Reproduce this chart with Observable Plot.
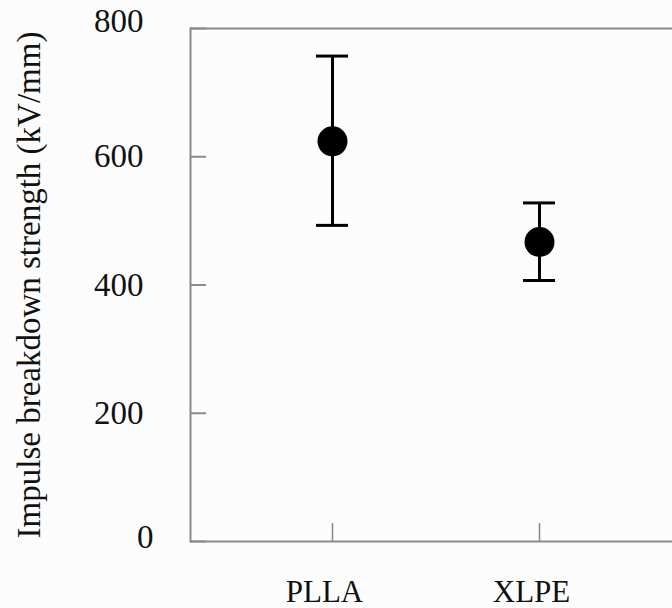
<!DOCTYPE html>
<html>
<head>
<meta charset="utf-8">
<script src="https://cdn.jsdelivr.net/npm/d3@7"></script>
<script src="https://cdn.jsdelivr.net/npm/@observablehq/plot@0.6"></script>
<style>
  html, body { margin: 0; padding: 0; background: #fcfcfc; overflow: hidden; }
  #chart svg { display: block; max-width: none !important; }
  #chart svg text { font-family: "Liberation Serif", "Times New Roman", Times, serif !important; }
</style>
</head>
<body>
<div id="chart"></div>
<script>
// Data
const materials = ["PLLA", "XLPE"];
const meanStrength = [624, 467];
const upperStrength = [757, 528];
const lowerStrength = [493, 407];
const yTicks = [0, 200, 400, 600, 800];
const yLabel = "Impulse breakdown strength (kV/mm)";

const data = materials.map((m, i) => ({
  material: m,
  mean: meanStrength[i],
  hi: upperStrength[i],
  lo: lowerStrength[i]
}));

const axisColor = "#8a8a8a";
const serif = "Liberation Serif, Times New Roman, Times, serif";

const chart = Plot.plot({
  width: 680,
  height: 608,
  marginLeft: 190,
  marginRight: 0,
  marginTop: 28,
  marginBottom: 67,
  style: {
    fontFamily: serif,
    background: "#fcfcfc",
    color: "#111"
  },
  x: { type: "band", domain: materials, paddingInner: 0.846, paddingOuter: 0.601 },
  y: { domain: [0, 800] },
  marks: [
    Plot.frame({ stroke: axisColor, strokeWidth: 2 }),
    // y ticks pointing inward
    Plot.axisY({ ticks: yTicks, tickSize: -16, text: null, stroke: axisColor, strokeWidth: 2, label: null }),
    // y tick labels
    Plot.axisY({ ticks: yTicks.filter(t => t > 0 && t < 800), tickSize: 0, tickPadding: 47, fontSize: 33, fontFamily: serif, fontVariant: "normal", label: null }),
    Plot.axisY({ ticks: yTicks.filter(t => t === 800), tickSize: 0, tickPadding: 47, dy: -7, fontSize: 33, fontFamily: serif, fontVariant: "normal", label: null }),
    Plot.axisY({ ticks: yTicks.filter(t => t === 0), tickSize: 0, tickPadding: 37, dy: -4, fontSize: 33, fontFamily: serif, fontVariant: "normal", label: null }),
    // y axis title
    Plot.axisY({
      ticks: [], tickSize: 0, text: null,
      label: yLabel, labelAnchor: "center", labelArrow: "none", labelOffset: 174,
      fontSize: 33, fontFamily: serif, dy: -8, dx: 12
    }),
    // x ticks pointing up
    Plot.axisX({ tickSize: -18, text: null, stroke: axisColor, strokeWidth: 1.5, label: null }),
    Plot.axisX({ tickSize: 0, tickPadding: 38, fontSize: 31, fontFamily: serif, dx: -8, label: null }),
    // error bars
    Plot.ruleX(data, { x: "material", y1: "lo", y2: "hi", stroke: "black", strokeWidth: 3 }),
    Plot.tickY(data, { x: "material", y: "hi", stroke: "black", strokeWidth: 3 }),
    Plot.tickY(data, { x: "material", y: "lo", stroke: "black", strokeWidth: 3 }),
    Plot.dot(data, { x: "material", y: "mean", r: 15, fill: "black", stroke: "none" })
  ]
});

chart.style.maxWidth = "none";
document.getElementById("chart").appendChild(chart);
</script>
</body>
</html>
